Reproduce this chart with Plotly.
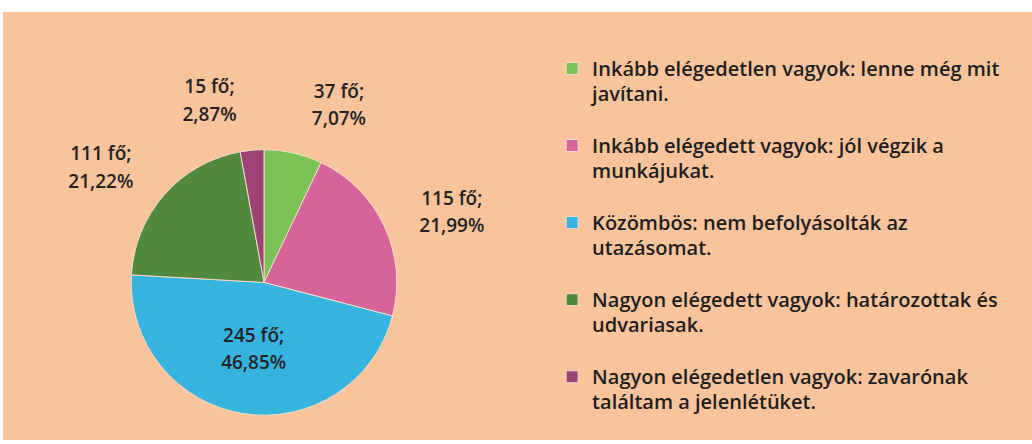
import plotly.graph_objects as go

categories = [
    "Inkább elégedetlen vagyok: lenne még mit<br>javítani.<br> ",
    "Inkább elégedett vagyok: jól végzik a<br>munkájukat.<br> ",
    "Közömbös: nem befolyásolták az<br>utazásomat.<br> ",
    "Nagyon elégedett vagyok: határozottak és<br>udvariasak.<br> ",
    "Nagyon elégedetlen vagyok: zavarónak<br>találtam a jelenlétüket.",
]
counts = [37, 115, 245, 111, 15]
percent_labels = ["7,07%", "21,99%", "46,85%", "21,22%", "2,87%"]
colors = ["#7BC257", "#D6649A", "#37B3E0", "#51893F", "#9C4274"]
inside = [False, False, True, False, False]

L = "<span style='font-size:20px'>"
legend_labels = ["<br>".join(f"{L}{part}</span>" if part.strip() else part
                             for part in c.split("<br>")) for c in categories]

S = "<span style='font-size:19px'>"
texts = [f"{S}{c} fő;</span><br>{S}{p}</span>" for c, p in zip(counts, percent_labels)]
inner_text = [t if i else "" for t, i in zip(texts, inside)]
outer_text = ["" if i else t for t, i in zip(texts, inside)]

cx, cy, r = 264, 444 - 285, 134
rl = 158

label_font = dict(family="Open Sans", size=21, color="#232323", weight=600)

fig = go.Figure()
# visible pie
fig.add_trace(go.Pie(
    labels=legend_labels, values=counts, text=inner_text, textinfo="text",
    textposition=["inside" if i else "none" for i in inside],
    sort=False, direction="clockwise", rotation=0,
    marker=dict(colors=colors, line=dict(color="#F3DCC8", width=1)),
    textfont=label_font,
    insidetextorientation="horizontal",
    domain=dict(x=[(cx - r) / 1032, (cx + r) / 1032], y=[(cy - r) / 444, (cy + r) / 444]),
    hoverinfo="label+value", showlegend=True,
))
# transparent ring used only to place the outside labels further out
fig.add_trace(go.Pie(
    labels=legend_labels, values=counts, text=outer_text, textinfo="text",
    textposition=["none" if i else "outside" for i in inside],
    sort=False, direction="clockwise", rotation=0,
    marker=dict(colors=["rgba(0,0,0,0)"] * 5, line=dict(width=0)),
    textfont=label_font,
    domain=dict(x=[(cx - rl) / 1032, (cx + rl) / 1032],
                y=[max(0, (cy - rl) / 444), (cy + rl) / 444]),
    hoverinfo="skip", showlegend=False,
))

fig.add_shape(type="rect", xref="paper", yref="paper",
              x0=3 / 1032, x1=1, y0=0, y1=(444 - 12) / 444,
              fillcolor="#F9C49C", line=dict(width=0), layer="below")

fig.update_layout(
    width=1032, height=444,
    margin=dict(l=0, r=0, t=0, b=0),
    paper_bgcolor="white",
    plot_bgcolor="rgba(0,0,0,0)",
    legend=dict(
        x=0.535, y=(444 - 50) / 444, xanchor="left", yanchor="top",
        font=dict(family="Open Sans", size=19, color="#1E1E1E", weight=600),
        valign="top", bgcolor="rgba(0,0,0,0)",
        itemwidth=30,
    ),
)

fig.write_html("out.html", config={"displayModeBar": False},
               post_script="document.body.style.margin='0';")
